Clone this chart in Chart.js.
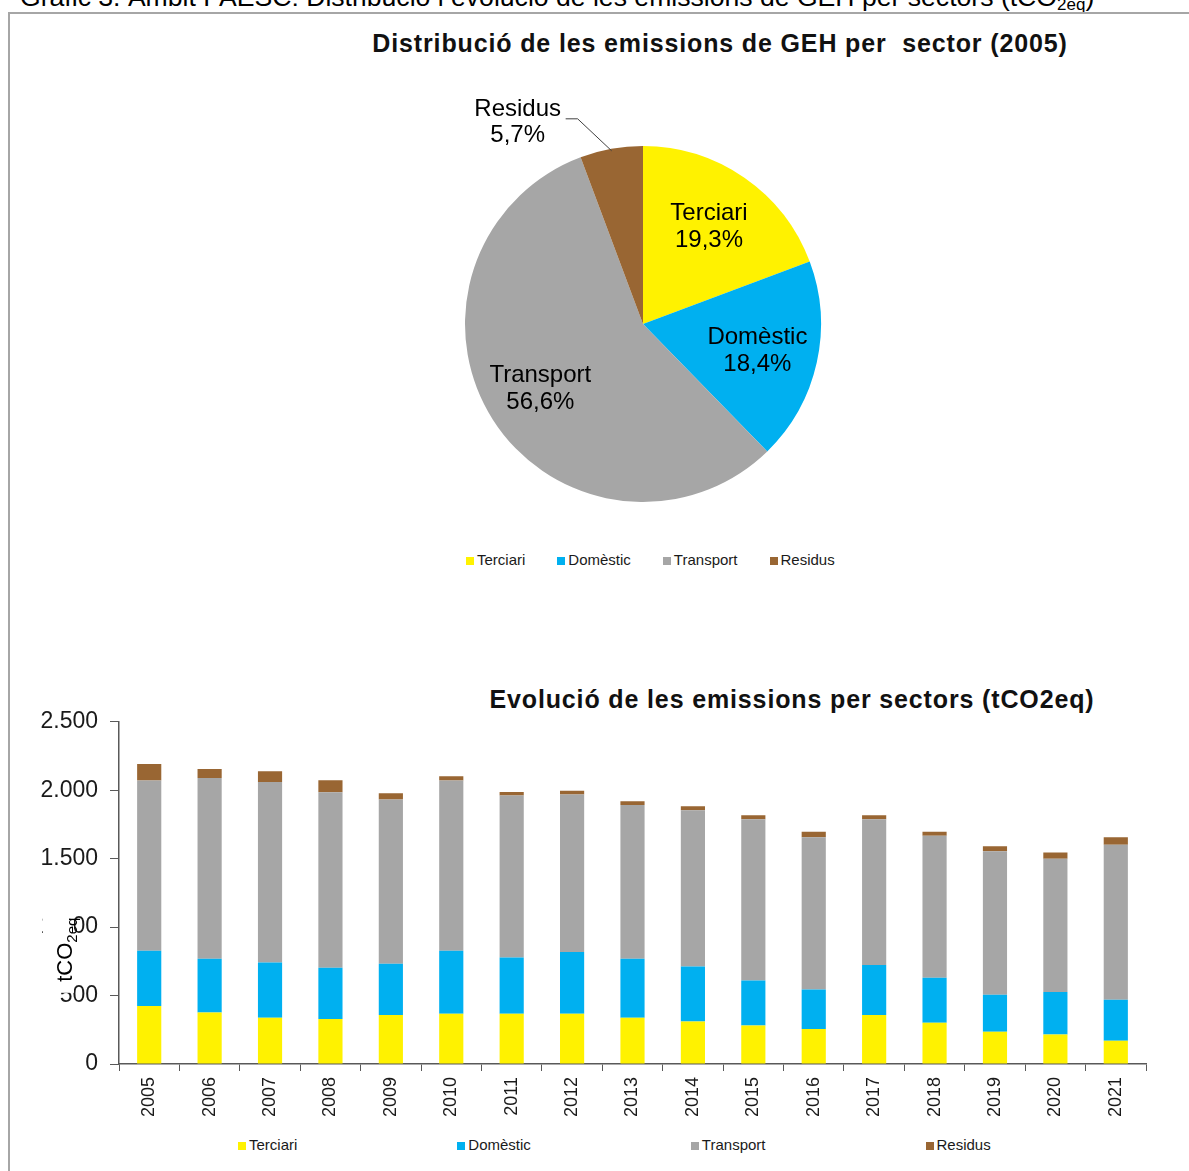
<!DOCTYPE html>
<html lang="ca">
<head>
<meta charset="utf-8">
<title>Emissions de GEH per sectors</title>
<script src="https://cdn.jsdelivr.net/npm/chart.js@4.4.1/dist/chart.umd.min.js"></script>
<style>
  html, body { margin: 0; padding: 0; background: #fff; }
  body {
    position: relative; width: 1189px; height: 1171px; overflow: hidden;
    font-family: "Liberation Sans", Arial, sans-serif; color: #000;
  }
  #caption {
    position: absolute; left: 20px; top: -16px;
    font-size: 26.6px; line-height: 27px; white-space: nowrap;
  }
  #caption sub { font-size: 17px; vertical-align: -4px; line-height: 0; }
  #frame {
    position: absolute; left: 8px; top: 12px; width: 1220px; height: 1220px;
    border: 2px solid #a6a6a6; box-sizing: border-box;
  }
  .title {
    position: absolute; transform: translateX(-50%);
    font-weight: bold; font-size: 25px; line-height: 25px; letter-spacing: 0.86px;
    white-space: nowrap; color: #111;
  }
  #pieTitle { left: 720px; top: 31px; }
  #barTitle { left: 792px; top: 687px; }
  .box { position: absolute; left: 0; width: 1189px; }
  #pieBox { top: 60px; height: 460px; }
  #barBox { top: 696px; height: 426px; }
  .legend {
    position: absolute; display: flex;
    font-size: 15px; line-height: 18px; color: #1a1a1a;
  }
  .legend span.mark { display: inline-block; width: 8px; height: 8px; margin-right: 3px; }
  #pieLegend { left: 466px; top: 551px; gap: 32px; }
  #barLegend { left: 238px; top: 1136px; gap: 160px; }
</style>
</head>
<body>
<div id="caption">Gràfic 3. Àmbit PAESC: Distribució i evolució de les emissions de GEH per sectors (tCO<sub>2eq</sub>)</div>
<div id="frame"></div>
<div id="pieTitle" class="title">Distribució de les emissions de GEH per&nbsp; sector (2005)</div>
<div class="box" id="pieBox"><canvas id="pieChart"></canvas></div>
<div id="pieLegend" class="legend"></div>
<div id="barTitle" class="title">Evolució de les emissions per sectors (tCO2eq)</div>
<div class="box" id="barBox"><canvas id="barChart"></canvas></div>
<div id="barLegend" class="legend"></div>

<script>
// sectors and their colours
const sectors = ['Terciari', 'Domèstic', 'Transport', 'Residus'];
const sectorColors = ['#FFF200', '#00B0F0', '#A6A6A6', '#996633'];

// share of each sector in 2005 (%)
const share2005 = [19.3, 18.4, 56.6, 5.7];

// yearly emissions per sector (tCO2eq)
const years = ['2005', '2006', '2007', '2008', '2009', '2010', '2011', '2012', '2013',
               '2014', '2015', '2016', '2017', '2018', '2019', '2020', '2021'];
const terciari  = [423, 377, 338, 329, 358, 367, 367, 367, 338, 311, 282, 255, 358, 301, 236, 216, 170];
const domestic  = [404, 392, 404, 374, 374, 460, 411, 451, 431, 402, 328, 290, 365, 329, 270, 310, 299];
const transport = [1244, 1321, 1319, 1283, 1200, 1244, 1183, 1150, 1124, 1141, 1178, 1112, 1065, 1037, 1049, 973, 1132];
const residus   = [121, 66, 78, 87, 46, 31, 27, 29, 27, 29, 30, 39, 30, 29, 36, 46, 56];
const yTicks = [0, 500, 1000, 1500, 2000, 2500];

const FONT = '"Liberation Sans", Arial, sans-serif';
Chart.defaults.font.family = FONT;
Chart.defaults.color = '#000';

function fmtPct(v) {
    return v.toFixed(1).replace('.', ',') + '%';
}
function fmtThousands(v) {
    return String(v).replace(/\B(?=(\d{3})+(?!\d))/g, '.');
}

function buildLegend(el) {
    sectors.forEach((name, i) => {
        const item = document.createElement('div');
        const mark = document.createElement('span');
        mark.className = 'mark';
        mark.style.background = sectorColors[i];
        item.appendChild(mark);
        item.appendChild(document.createTextNode(name));
        el.appendChild(item);
    });
}

// slice labels: inside for big slices, outside with a leader line for small ones
const pieLabels = {
    id: 'pieLabels',
    afterDatasetsDraw(chart) {
        const ctx = chart.ctx;
        const meta = chart.getDatasetMeta(0);
        ctx.save();
        ctx.font = '24px ' + FONT;
        ctx.fillStyle = '#000';
        ctx.textAlign = 'center';
        ctx.textBaseline = 'middle';
        meta.data.forEach((arc, i) => {
            const p = arc.getProps(['x', 'y', 'startAngle', 'endAngle', 'outerRadius'], true);
            const mid = (p.startAngle + p.endAngle) / 2;
            const value = chart.data.datasets[0].data[i];
            const name = chart.data.labels[i];
            if (value < 10) {
                const ex = p.x + Math.cos(mid) * (p.outerRadius - 2);
                const ey = p.y + Math.sin(mid) * (p.outerRadius - 2);
                const kx = ex - 34, ky = ey - 32;
                ctx.strokeStyle = '#404040';
                ctx.lineWidth = 1;
                ctx.beginPath();
                ctx.moveTo(ex, ey);
                ctx.lineTo(kx, ky);
                ctx.lineTo(kx - 12, ky);
                ctx.stroke();
                ctx.fillText(name, kx - 60, ky - 9);
                ctx.fillText(fmtPct(value), kx - 60, ky + 17);
            } else {
                const r = p.outerRadius * 0.67;
                const cx = p.x + Math.cos(mid) * r - 2;
                const cy = p.y + Math.sin(mid) * r;
                ctx.fillText(name, cx, cy - 13);
                ctx.fillText(fmtPct(value), cx, cy + 14);
            }
        });
        ctx.restore();
    }
};

new Chart(document.getElementById('pieChart'), {
    type: 'pie',
    data: {
        labels: sectors,
        datasets: [{
            data: share2005,
            backgroundColor: sectorColors,
            borderWidth: 0,
            radius: 178
        }]
    },
    options: {
        responsive: true,
        maintainAspectRatio: false,
        animation: false,
        layout: { padding: { left: 97, top: 68, right: 0, bottom: 0 } },
        plugins: {
            legend: { display: false },
            tooltip: { enabled: false }
        }
    },
    plugins: [pieLabels]
});
buildLegend(document.getElementById('pieLegend'));

// rotated axis title with subscript, painted over the tick labels
const yTitle = {
    id: 'yTitle',
    afterDraw(chart) {
        const ctx = chart.ctx;
        const top = chart.chartArea.top;
        ctx.save();
        ctx.fillStyle = '#fff';
        ctx.fillRect(43, top + 185, 31, 86);
        ctx.translate(72, top + 260);
        ctx.rotate(-Math.PI / 2);
        ctx.fillStyle = '#000';
        ctx.textAlign = 'left';
        ctx.textBaseline = 'alphabetic';
        ctx.font = '22px ' + FONT;
        ctx.fillText('tCO', 0, 0);
        const w = ctx.measureText('tCO').width;
        ctx.font = '15px ' + FONT;
        ctx.fillText('2eq', w, 5);
        ctx.restore();
    }
};

const series = [terciari, domestic, transport, residus];

new Chart(document.getElementById('barChart'), {
    type: 'bar',
    data: {
        labels: years,
        datasets: series.map((values, i) => ({
            label: sectors[i],
            data: values,
            backgroundColor: sectorColors[i],
            borderWidth: 0,
            barPercentage: 0.4,
            categoryPercentage: 1.0
        }))
    },
    options: {
        responsive: true,
        maintainAspectRatio: false,
        animation: false,
        layout: { padding: { top: 16, right: 43, left: 0, bottom: 0 } },
        plugins: {
            legend: { display: false },
            tooltip: { enabled: false }
        },
        scales: {
            x: {
                stacked: true,
                grid: { offset: true, drawOnChartArea: false, drawTicks: true, tickLength: 7, color: '#595959' },
                border: { color: '#595959', width: 1.5 },
                ticks: { font: { size: 18 }, color: '#1a1a1a', minRotation: 90, maxRotation: 90, autoSkip: false, padding: 6 },
                afterFit(scale) { scale.height = 58; }
            },
            y: {
                stacked: true,
                min: yTicks[0],
                max: yTicks[yTicks.length - 1],
                afterBuildTicks(scale) { scale.ticks = yTicks.map(v => ({ value: v })); },
                ticks: { font: { size: 23 }, color: '#1a1a1a', padding: 12, callback: v => fmtThousands(v) },
                grid: { drawOnChartArea: false, drawTicks: true, tickLength: 9, color: '#595959' },
                border: { color: '#595959', width: 1.5 },
                afterFit(scale) { scale.width = 119; }
            }
        }
    },
    plugins: [yTitle]
});
buildLegend(document.getElementById('barLegend'));
</script>
</body>
</html>
